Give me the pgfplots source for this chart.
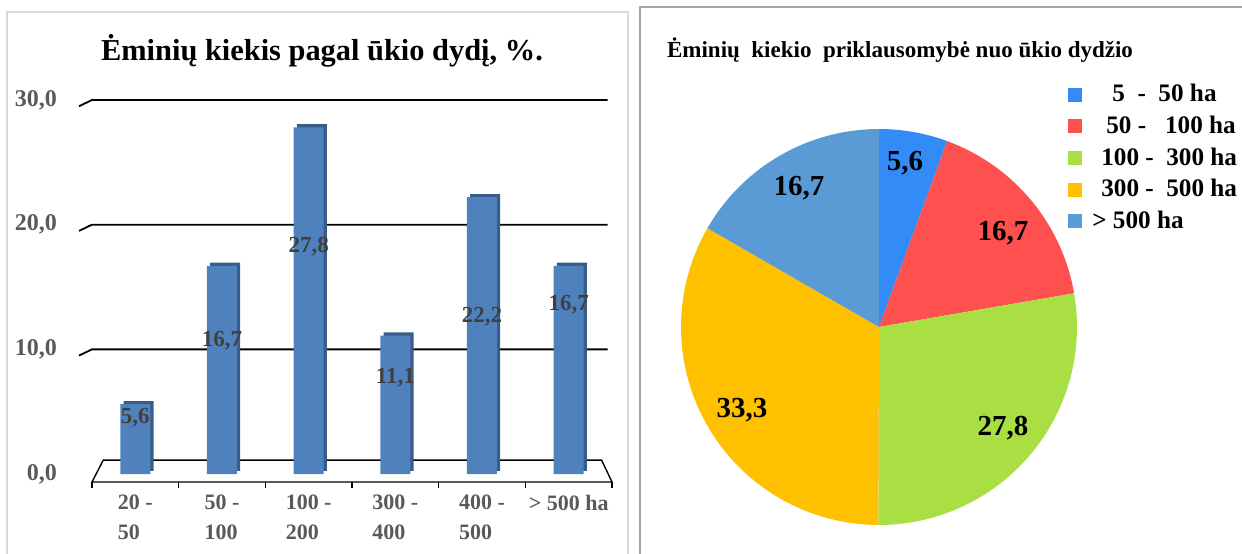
\documentclass[border=0pt]{standalone}
\usepackage{pgfplots}
\pgfplotsset{compat=1.18}
\usepackage{fontspec}
\setmainfont{Liberation Serif}

\definecolor{barblue}{HTML}{4F81BD}
\definecolor{bardark}{HTML}{385D8A}
\definecolor{pblue}{HTML}{338BF7}
\definecolor{pred}{HTML}{FF5050}
\definecolor{pgreen}{HTML}{A9DF43}
\definecolor{porange}{HTML}{FFC000}
\definecolor{psteel}{HTML}{5B9BD5}
\definecolor{tickgray}{HTML}{595959}
\definecolor{labgray}{HTML}{404040}

\begin{document}
\begin{tikzpicture}
\path[use as bounding box] (0,0) rectangle (621pt,276.5pt);
% panel frames
\draw[gray!30, line width=1pt] (3.5pt,-2pt) -- (3.5pt,270.5pt) -- (314pt,270.5pt) -- (314pt,-2pt);
\draw[gray!70, line width=0.8pt] (320pt,-2pt) -- (320pt,273pt) -- (625pt,273pt);

% titles
\node[font=\bfseries\fontsize{15.2}{18}\selectfont, anchor=center] at (161pt,251pt) {Ėminių kiekis pagal ūkio dydį, \%.};
\node[font=\bfseries\fontsize{11.5}{14}\selectfont, anchor=west] at (330pt,251.5pt) {Ėminių\ \ kiekio\ \ priklausomybė nuo ūkio dydžio};

% ---------- bar chart ----------
\begin{axis}[
  at={(46pt,35.5pt)}, anchor=south west,
  scale only axis, width=260pt, height=191pt,
  xmin=-0.5, xmax=5.5, ymin=-0.64, ymax=30,
  clip=false,
  axis line style={draw=none},
  xtick={0,...,5},
  xticklabels={{20 -\\50},{50 -\\100},{100 -\\200},{300 -\\400},{400 -\\500},{> 500 ha}},
  minor xtick={-0.5,0.5,...,5.5},
  major tick length=0pt,
  minor tick length=3pt,
  xtick align=outside,
  tick style={black, line width=0.6pt},
  ytick={0,10,20,30},
  yticklabels={{0,0},{10,0},{20,0},{30,0}},
  y tick label style={font=\bfseries\fontsize{12}{14}\selectfont, text=tickgray},
  x tick label style={font=\bfseries\fontsize{11}{15}\selectfont, text=tickgray, align=left},
  yticklabel shift=14pt,
  xticklabel shift=3pt,
  ytick pos=left, xtick pos=bottom,
]
% floor
\draw[black, line width=0.7pt] (axis cs:-0.5,-0.64) -- (axis cs:-0.37,1.12) -- (axis cs:5.38,1.12) -- (axis cs:5.5,-0.64) -- cycle;
% grid lines on back wall
\draw[black, line width=0.9pt] (axis cs:-0.65,9.5) -- (axis cs:-0.5,10) -- (axis cs:5.45,10);
\draw[black, line width=0.9pt] (axis cs:-0.65,19.5) -- (axis cs:-0.5,20) -- (axis cs:5.45,20);
\draw[black, line width=0.9pt] (axis cs:-0.65,29.5) -- (axis cs:-0.5,30) -- (axis cs:5.45,30);
% bar depth (shadow)
\addplot[ybar, bar width=15pt, bar shift=1.6pt, yshift=1.6pt, fill=bardark, draw=none]
  coordinates {(0,5.6) (1,16.7) (2,27.8) (3,11.1) (4,22.2) (5,16.7)};
% bars
\addplot[ybar, bar width=15pt, bar shift=0pt, fill=barblue, draw=none]
  coordinates {(0,5.6) (1,16.7) (2,27.8) (3,11.1) (4,22.2) (5,16.7)};
% value labels
\addplot[draw=none, mark=none, nodes near coords, point meta=explicit symbolic,
  nodes near coords style={font=\bfseries\fontsize{11.5}{13}\selectfont, text=labgray, anchor=center}]
  coordinates {(0,4.5)[{5,6}] (1,10.7)[{16,7}] (2,18.2)[{27,8}] (3,7.7)[{11,1}] (4,12.6)[{22,2}] (5,13.6)[{16,7}]};
\end{axis}

% ---------- pie chart ----------
\pgfmathsetmacro{\tot}{5.6+16.7+27.8+33.3+16.7}
\pgfmathsetmacro{\aA}{90}
\pgfmathsetmacro{\aB}{90-360*5.6/\tot}
\pgfmathsetmacro{\aC}{\aB-360*16.7/\tot}
\pgfmathsetmacro{\aD}{\aC-360*27.8/\tot}
\pgfmathsetmacro{\aE}{\aD-360*33.3/\tot}
\pgfmathsetmacro{\aF}{\aE-360*16.7/\tot}
\begin{axis}[
  at={(439.5pt,113pt)}, anchor=center,
  scale only axis, width=198pt, height=198pt,
  xmin=-1, xmax=1, ymin=-1, ymax=1,
  hide axis, clip=false,
  legend style={at={(axis description cs:0.977,1.124)}, anchor=north west, draw=none, fill=none,
    font=\bfseries\fontsize{12.6}{14}\selectfont, row sep=1.6pt, inner sep=0pt},
  legend cell align=left,
  legend image code/.code={\fill[#1] (0pt,-3.5pt) rectangle (7pt,3.5pt);},
]
\addplot[fill=pblue, draw=none, domain=\aB:\aA, samples=30, variable=\t] ({cos(\t)},{sin(\t)}) -- (axis cs:0,0) -- cycle;
\addlegendentry{\hspace{13pt}5\ \ -\ \ 50 ha}
\addplot[fill=pred, draw=none, domain=\aC:\aB, samples=40, variable=\t] ({cos(\t)},{sin(\t)}) -- (axis cs:0,0) -- cycle;
\addlegendentry{\hspace{10pt}50 -\ \ \ 100 ha}
\addplot[fill=pgreen, draw=none, domain=\aD:\aC, samples=60, variable=\t] ({cos(\t)},{sin(\t)}) -- (axis cs:0,0) -- cycle;
\addlegendentry{\hspace{7.5pt}100 -\ \ 300 ha}
\addplot[fill=porange, draw=none, domain=\aE:\aD, samples=60, variable=\t] ({cos(\t)},{sin(\t)}) -- (axis cs:0,0) -- cycle;
\addlegendentry{\hspace{7.5pt}300 -\ \ 500 ha}
\addplot[fill=psteel, draw=none, domain=\aF:\aE, samples=40, variable=\t] ({cos(\t)},{sin(\t)}) -- (axis cs:0,0) -- cycle;
\addlegendentry{\hspace{3pt}> 500 ha}
\addplot[forget plot, draw=none, mark=none, nodes near coords, point meta=explicit symbolic,
  nodes near coords style={font=\bfseries\fontsize{14.5}{16}\selectfont, text=black, anchor=center}]
  coordinates {(0.131,0.828)[{5,6}] (0.626,0.475)[{16,7}] (0.626,-0.510)[{27,8}] (-0.692,-0.419)[{33,3}] (-0.404,0.702)[{16,7}]};
\end{axis}
\end{tikzpicture}
\end{document}
